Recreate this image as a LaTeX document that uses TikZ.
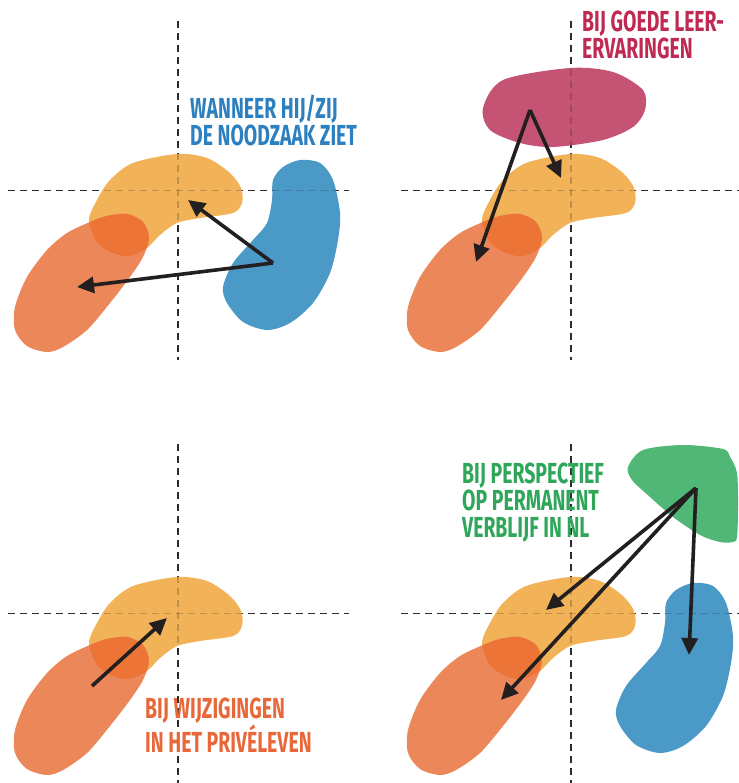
\documentclass[tikz,border=0pt]{standalone}
\usepackage{fontspec}
\newfontfamily\tagfont[FakeStretch=0.67]{Fira Sans}
\usetikzlibrary{arrows.meta}

\definecolor{geeloranje}{HTML}{F2B257}
\definecolor{roodoranje}{HTML}{EC875A}
\definecolor{overlap}{HTML}{EC7436}
\definecolor{blauw}{HTML}{4A99C6}
\definecolor{magenta}{HTML}{C55373}
\definecolor{groen}{HTML}{50B777}
\definecolor{blauwtekst}{HTML}{2C80BF}
\definecolor{roodtekst}{HTML}{BE2A52}
\definecolor{oranjetekst}{HTML}{E8683A}
\definecolor{groentekst}{HTML}{2FA65A}
\definecolor{pijlzwart}{HTML}{231F20}
\definecolor{asgrijs}{HTML}{2B2B2B}

\tikzset{
	oranjevorm/.style={insert path={plot[smooth cycle] coordinates {(89,220) (97,200) (110,180) (133,163) (177,154) (207,158) (230,173) (241,188) (242,203) (233,213) (200,218) (177,223) (160,235) (147,248) (130,256) (113,253) (97,242)}}},
	roodvorm/.style={insert path={plot[smooth cycle] coordinates {(107,216) (127,214) (143,222) (149,238) (143,257) (130,277) (110,303) (87,330) (63,347) (47,352) (27,346) (15,330) (15,307) (27,277) (47,250) (67,233) (90,222)}}},
	blauwvorm/.style={insert path={plot[smooth cycle] coordinates {(300,160) (320,163) (333,180) (340,213) (338,240) (330,273) (313,303) (290,323) (267,330) (243,322) (227,303) (223,287) (233,263) (253,240) (267,223) (272,200) (273,180) (283,167)}}},
	magentavorm/.style={insert path={plot[smooth cycle] coordinates {(90,108) (110,80) (177,68) (220,72) (250,90) (252,110) (240,127) (210,140) (160,147) (127,143) (97,130)}}},
	groenvorm/.style={insert path={plot[smooth cycle] coordinates {(235,44) (250,27) (290,22) (330,26) (337,34) (344,50) (345,84) (344,114) (340,119) (327,119) (307,112) (280,94) (257,74) (239,57)}}}
}

\begin{document}
\begin{tikzpicture}[x=1pt, y=-1pt,
		as/.style={draw=asgrijs, line width=1.1pt, dash pattern=on 7pt off 5pt},
		pijl/.style={draw=pijlzwart, line width=3.6pt, -{Triangle[length=17pt, width=16pt]}},
		tag/.style={anchor=base west, align=left, inner sep=0pt, font=\tagfont\bfseries\fontsize{29}{27}\selectfont}]
	\useasboundingbox (0,0) rectangle (738,783);

	% assen onder de vormen
	\foreach \dx/\dy in {0/0, 393/0, 0/423, 393/423} {
		\begin{scope}[shift={(\dx,\dy)}]
			\draw[as] (8,190.5) -- (349,190.5);
			\draw[as] (178,21) -- (178,360);
		\end{scope}
	}

	% oranje en rood in elk vak
	\foreach \dx/\dy in {0/0, 393/0, 0/423, 393/423} {
		\begin{scope}[shift={(\dx,\dy)}]
			\fill[geeloranje, oranjevorm];
			\fill[roodoranje, roodvorm];
			\begin{scope}
				\path[clip, oranjevorm];
				\fill[overlap, roodvorm];
			\end{scope}
		\end{scope}
	}

	\fill[blauw, blauwvorm];
	\begin{scope}[shift={(393,0)}]
		\fill[magenta, magentavorm];
	\end{scope}
	\begin{scope}[shift={(393,423)}]
		\fill[groen, groenvorm];
		\fill[blauw, blauwvorm];
	\end{scope}

	% assen zwak zichtbaar door de vormen
	\foreach \dx/\dy in {0/0, 393/0, 0/423, 393/423} {
		\begin{scope}[shift={(\dx,\dy)}, opacity=0.25]
			\draw[as] (8,190.5) -- (349,190.5);
			\draw[as] (178,21) -- (178,360);
		\end{scope}
	}

	% vak 1
	\coordinate (blauw1) at (273,263);
	\coordinate (oranje1) at (188,200);
	\coordinate (rood1) at (77,287);
	\draw[pijl] (blauw1) -- (oranje1);
	\draw[pijl] (blauw1) -- (rood1);
	\node[tag, text=blauwtekst] (noodzaak) at (190,146) {WANNEER HIJ/ZIJ\\DE NOODZAAK ZIET};

	% vak 2
	\begin{scope}[shift={(393,0)}]
		\coordinate (magenta2) at (137,110);
		\coordinate (oranje2) at (168,178);
		\coordinate (rood2) at (83,262);
		\draw[pijl] (magenta2) -- (oranje2);
		\draw[pijl] (magenta2) -- (rood2);
		\node[tag, text=roodtekst] (leer) at (189,59) {BIJ GOEDE LEER-\\ERVARINGEN};
	\end{scope}

	% vak 3
	\begin{scope}[shift={(0,423)}]
		\coordinate (rood3) at (92,263);
		\coordinate (oranje3) at (167,195);
		\draw[pijl] (rood3) -- (oranje3);
		\node[tag, text=oranjetekst] (prive) at (145,329) {BIJ WIJZIGINGEN\\IN HET PRIVÉLEVEN};
	\end{scope}

	% vak 4
	\begin{scope}[shift={(393,423)}]
		\coordinate (groen4) at (303,65);
		\coordinate (oranje4) at (153,187);
		\coordinate (rood4) at (108,277);
		\coordinate (blauw4) at (296,232);
		\draw[pijl] (groen4) -- (oranje4);
		\draw[pijl] (groen4) -- (rood4);
		\draw[pijl] (groen4) -- (blauw4);
		\node[tag, text=groentekst] (verblijf) at (69,114) {BIJ PERSPECTIEF\\OP PERMANENT\\VERBLIJF IN NL};
	\end{scope}
\end{tikzpicture}
\end{document}
